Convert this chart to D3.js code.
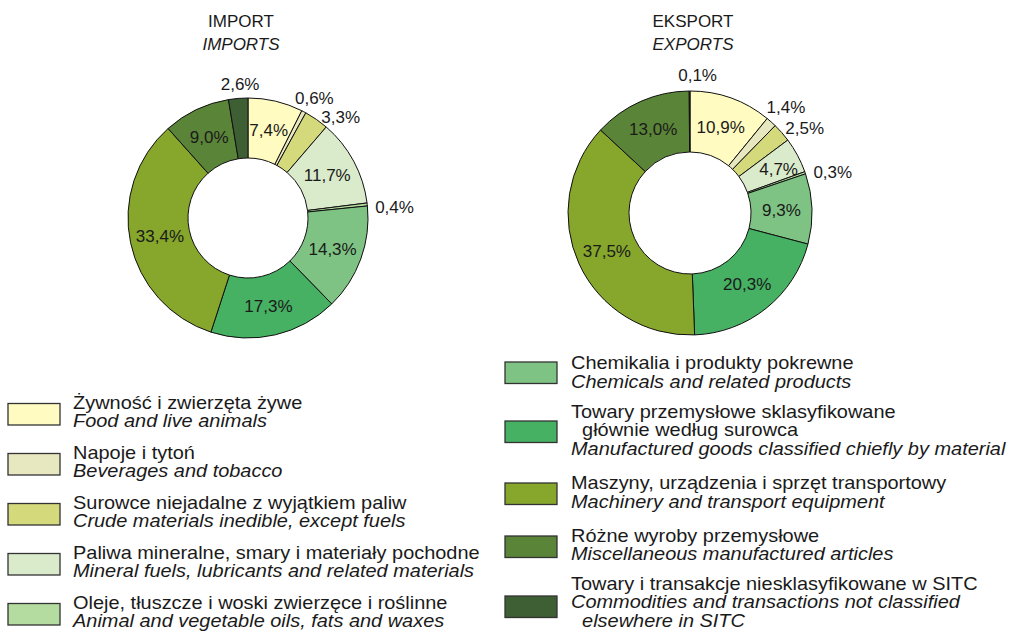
<!DOCTYPE html>
<html><head><meta charset="utf-8">
<script src="https://cdn.jsdelivr.net/npm/d3@7"></script>
<style>
body{margin:0;background:#fff;}
svg text{font-family:"Liberation Sans",Arial,sans-serif;fill:#1a1a1a;}
</style></head><body>
<svg id="chart" width="1012" height="632"></svg>
<script>
// ---- data ----
const categoriesPL = [
  ["Żywność i zwierzęta żywe"],
  ["Napoje i tytoń"],
  ["Surowce niejadalne z wyjątkiem paliw"],
  ["Paliwa mineralne, smary i materiały pochodne"],
  ["Oleje, tłuszcze i woski zwierzęce i roślinne"],
  ["Chemikalia i produkty pokrewne"],
  ["Towary przemysłowe sklasyfikowane", "  głównie według surowca"],
  ["Maszyny, urządzenia i sprzęt transportowy"],
  ["Różne wyroby przemysłowe"],
  ["Towary i transakcje niesklasyfikowane w SITC"]
];
const categoriesEN = [
  ["Food and live animals"],
  ["Beverages and tobacco"],
  ["Crude materials inedible, except fuels"],
  ["Mineral fuels, lubricants and related materials"],
  ["Animal and vegetable oils, fats and waxes"],
  ["Chemicals and related products"],
  ["Manufactured goods classified chiefly by material"],
  ["Machinery and transport equipment"],
  ["Miscellaneous manufactured articles"],
  ["Commodities and transactions not classified", "  elsewhere in SITC"]
];
const importShares = [7.4, 0.6, 3.3, 11.7, 0.4, 14.3, 17.3, 33.4, 9.0, 2.6];
const exportShares = [10.9, 1.4, 2.5, 4.7, 0.3, 9.3, 20.3, 37.5, 13.0, 0.1];
const titlesPL = ["IMPORT", "EKSPORT"];
const titlesEN = ["IMPORTS", "EXPORTS"];

// ---- styles / layout ----
const colors = ["#fffbc1", "#e8e8c0", "#d4d97c", "#daebcb", "#b4dca0",
                "#7ec383", "#46b063", "#86a62c", "#5a8438", "#3e5e33"];
const charts = [
  {values: importShares, cx: 248, cy: 218, r0: 60, r1: 120, titleX: 241,
   nudge: {1: [4, -1], 2: [-3, 9], 4: [-6, 4], 9: [3, 0]}},
  {values: exportShares, cx: 690, cy: 213, r0: 61, r1: 122, titleX: 693,
   nudge: {0: [0, 0], 1: [-14, -5], 2: [-7, 5], 3: [8, -1], 4: [-5, 4], 9: [8, -2]}}
];
const fmt = v => d3.format(".1f")(v).replace(".", ",") + "%";

const svg = d3.select("#chart");

charts.forEach((c, ci) => {
  const g = svg.append("g").attr("transform", `translate(${c.cx},${c.cy})`);
  const pie = d3.pie().sort(null).value(d => d);
  const arcs = pie(c.values);
  const arc = d3.arc().innerRadius(c.r0).outerRadius(c.r1);
  g.selectAll("path").data(arcs).enter().append("path")
    .attr("d", arc)
    .attr("fill", (d, i) => colors[i])
    .attr("stroke", "#111")
    .attr("stroke-width", 1);

  g.selectAll("text.lbl").data(arcs).enter().append("text")
    .attr("class", "lbl")
    .each(function(d, i) {
      const t = d3.select(this);
      const a = (d.startAngle + d.endAngle) / 2;
      const nd = c.nudge[i] || [0, 0];
      let x, y, anchor = "middle";
      if (d.value >= 4) {
        [x, y] = arc.centroid(d);
      } else {
        const r = c.r1 + 14;
        x = Math.sin(a) * r; y = -Math.cos(a) * r;
        anchor = (a < 0.5 || a > 2 * Math.PI - 0.5) ? "middle" : "start";
      }
      t.attr("x", x + nd[0]).attr("y", y + nd[1]).attr("dy", "0.35em")
       .attr("text-anchor", anchor)
       .style("font-size", "17px")
       .text(fmt(d.value));
    });

  svg.append("text").attr("x", c.titleX).attr("y", 27)
    .attr("text-anchor", "middle").style("font-size", "17px").text(titlesPL[ci]);
  svg.append("text").attr("x", c.titleX).attr("y", 50)
    .attr("text-anchor", "middle").style("font-size", "17px")
    .style("font-style", "italic").text(titlesEN[ci]);
});

// ---- legend ----
const legendLeft = {idx: [0, 1, 2, 3, 4], boxX: 8, textX: 73,
  baselines: [408.5, 458.5, 508.5, 558.5, 608.5], boxTops: [403.5, 453.5, 503.5, 553.5, 603.5]};
const legendRight = {idx: [5, 6, 7, 8, 9], boxX: 505, textX: 571,
  baselines: [369, 417.5, 489, 541.5, 589.5], boxTops: [362, 421, 483, 536, 596]};
const lineH = 18.7, boxW = 52, boxH = 21.5, sx = 1.14;

[legendLeft, legendRight].forEach(L => {
  L.idx.forEach((ci, k) => {
    svg.append("rect").attr("x", L.boxX).attr("y", L.boxTops[k])
      .attr("width", boxW).attr("height", boxH)
      .attr("fill", colors[ci]).attr("stroke", "#333").attr("stroke-width", 1.3);
    const lines = categoriesPL[ci].map(s => ({s, it: false}))
      .concat(categoriesEN[ci].map(s => ({s, it: true})));
    lines.forEach((ln, j) => {
      svg.append("text")
        .attr("transform", `translate(${L.textX},${L.baselines[k] + j * lineH}) scale(${sx},1)`)
        .attr("xml:space", "preserve")
        .style("white-space", "pre")
        .style("font-size", "17.5px")
        .style("font-style", ln.it ? "italic" : "normal")
        .text(ln.s);
    });
  });
});
</script>
</body></html>
